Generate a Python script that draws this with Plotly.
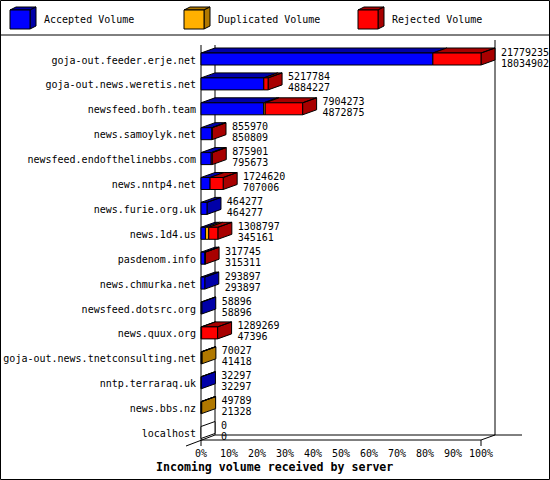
import plotly.graph_objects as go

# data (bytes); second number per row = accepted volume
servers = [
    "goja-out.feeder.erje.net", "goja-out.news.weretis.net", "newsfeed.bofh.team",
    "news.samoylyk.net", "newsfeed.endofthelinebbs.com", "news.nntp4.net",
    "news.furie.org.uk", "news.1d4.us", "pasdenom.info", "news.chmurka.net",
    "newsfeed.dotsrc.org", "news.quux.org", "goja-out.news.tnetconsulting.net",
    "nntp.terraraq.uk", "news.bbs.nz", "localhost",
]
total_volume = [21779235, 5217784, 7904273, 855970, 875901, 1724620, 464277, 1308797,
                317745, 293897, 58896, 1289269, 70027, 32297, 49789, 0]
accepted_volume = [18034902, 4884227, 4872875, 850809, 795673, 707006, 464277, 345161,
                   315311, 293897, 58896, 47396, 41418, 32297, 21328, 0]
duplicated_volume = [0, 0, 120000, 0, 0, 0, 0, 260000, 0, 0, 0, 0, 28609, 0, 28461, 0]

series_names = ["Accepted Volume", "Duplicated Volume", "Rejected Volume"]
front_colors = ["#0000ff", "#ffb000", "#ff0000"]
shade_colors = ["#0000a8", "#b07800", "#a80000"]
x_ticks = [0, 10, 20, 30, 40, 50, 60, 70, 80, 90, 100]
x_tick_labels = [f"{t}%" for t in x_ticks]

W, H = 550, 480
FONT = "DejaVu Sans Mono"

# pixel geometry of the fake 3d plot
X0_PX, PX_PER_PCT = 201, 2.8
ROW0_PX, ROW_PX = 59, 24.9
DX = 14 / PX_PER_PCT          # depth, in % units
DY = 5 / ROW_PX               # depth, in row units
HALF = 6 / ROW_PX             # half bar height


def xd(p):
    return (p - X0_PX) / PX_PER_PCT


def yd(p):
    return (p - ROW0_PX) / ROW_PX


def px(x):
    return x / W


def py(y):
    return 1 - y / H


max_total = max(total_volume)
rejected_volume = [t - a - d for t, a, d in zip(total_volume, accepted_volume, duplicated_volume)]

fronts = [([], []) for _ in series_names]
shades = [([], []) for _ in series_names]
blank = ([], [])


def add_poly(store, pts):
    xs, ys = store
    for x, y in pts + [pts[0]]:
        xs.append(x)
        ys.append(y)
    xs.append(None)
    ys.append(None)


for i in range(len(servers)):
    segs = [accepted_volume[i], duplicated_volume[i], rejected_volume[i]]
    start = 0
    last = None
    for k, v in enumerate(segs):
        if v <= 0:
            continue
        x0 = start / max_total * 100
        x1 = (start + v) / max_total * 100
        add_poly(fronts[k], [(x0, i - HALF), (x1, i - HALF), (x1, i + HALF), (x0, i + HALF)])
        add_poly(shades[k], [(x0, i - HALF), (x1, i - HALF), (x1 + DX, i - HALF - DY), (x0 + DX, i - HALF - DY)])
        start += v
        last = k
    xe = total_volume[i] / max_total * 100
    side = [(xe, i - HALF), (xe, i + HALF), (xe + DX, i + HALF - DY), (xe + DX, i - HALF - DY)]
    add_poly(shades[last] if last is not None else blank, side)

fig = go.Figure()

for store, col in [(blank, "white")] + list(zip(shades, shade_colors)) + list(zip(fronts, front_colors)):
    if not store[0]:
        continue
    fig.add_trace(go.Scatter(
        x=store[0], y=store[1], mode="lines", fill="toself", fillcolor=col,
        line=dict(color="black", width=1), hoverinfo="skip", showlegend=False,
    ))

# server names
fig.add_trace(go.Scatter(
    x=[xd(196)] * len(servers), y=[i + 2 / ROW_PX for i in range(len(servers))], mode="text",
    text=servers, textposition="middle left",
    textfont=dict(family=FONT, size=10, color="black"), hoverinfo="skip", showlegend=False,
))

# value labels (total on top, accepted below)
label_x = [t / max_total * 100 + DX + 2.1 for t in total_volume]
fig.add_trace(go.Scatter(
    x=label_x, y=[i - 6 / ROW_PX for i in range(len(servers))], mode="text",
    text=[str(v) for v in total_volume], textposition="middle right",
    textfont=dict(family=FONT, size=10, color="black"), hoverinfo="skip", showlegend=False,
))
fig.add_trace(go.Scatter(
    x=label_x, y=[i + 5 / ROW_PX for i in range(len(servers))], mode="text",
    text=[str(v) for v in accepted_volume], textposition="middle right",
    textfont=dict(family=FONT, size=10, color="black"), hoverinfo="skip", showlegend=False,
))

# frame of the 3d box
line = dict(color="black", width=1)
frame = [
    (0, yd(45), 0, yd(440)),
    (DX, yd(45), DX, yd(435)),
    (100 + DX, yd(40), 100 + DX, yd(435)),
    (DX, yd(435), xd(522), yd(435)),
    (0, yd(440), 100, yd(440)),
    (100, yd(440), 100 + DX, yd(435)),
    (xd(186), yd(446), DX, yd(435)),
    (0, yd(440), 0, yd(446)),
    (100, yd(440), 100, yd(446)),
]
shapes = [dict(type="line", xref="x", yref="y", x0=a, y0=b, x1=c, y1=d, line=line, layer="below")
          for a, b, c, d in frame]

# outer border and legend strip
shapes.append(dict(type="rect", xref="paper", yref="paper", x0=px(0.5), y0=py(479.5),
                   x1=px(549.5), y1=py(0.5), line=line))
shapes.append(dict(type="line", xref="paper", yref="paper", x0=0, y0=py(35), x1=1, y1=py(35), line=line))

annotations = []
legend_x = [10, 184, 358]
for lx, name, fc, sc in zip(legend_x, series_names, front_colors, shade_colors):
    def pth(pts):
        return "M " + " L ".join(f"{px(a)},{py(b)}" for a, b in pts) + " Z"
    shapes.append(dict(type="path", xref="paper", yref="paper", fillcolor=sc, line=line,
                       path=pth([(lx, 10), (lx + 20, 10), (lx + 26, 7), (lx + 6, 7)])))
    shapes.append(dict(type="path", xref="paper", yref="paper", fillcolor=sc, line=line,
                       path=pth([(lx + 20, 10), (lx + 26, 7), (lx + 26, 26), (lx + 20, 29)])))
    shapes.append(dict(type="path", xref="paper", yref="paper", fillcolor=fc, line=line,
                       path=pth([(lx, 10), (lx + 20, 10), (lx + 20, 29), (lx, 29)])))
    annotations.append(dict(x=px(lx + 32), y=py(20), xref="paper", yref="paper", text=name,
                            showarrow=False, xanchor="left", yanchor="middle",
                            font=dict(family=FONT, size=10, color="black")))

annotations.append(dict(x=px(274), y=py(467), xref="paper", yref="paper",
                        text="<b>Incoming volume received by server</b>", showarrow=False,
                        xanchor="center", yanchor="middle",
                        font=dict(family=FONT, size=11.6, color="black")))

fig.update_layout(
    width=W, height=H,
    margin=dict(l=0, r=0, t=0, b=0),
    paper_bgcolor="white", plot_bgcolor="white",
    shapes=shapes, annotations=annotations,
    xaxis=dict(range=[xd(0), xd(W)], tickvals=x_ticks, ticktext=x_tick_labels,
               showgrid=False, zeroline=False, showline=False, ticks="",
               anchor="free", position=(H - 446) / H,
               tickfont=dict(family=FONT, size=10, color="black"), fixedrange=True),
    yaxis=dict(range=[yd(H), yd(0)], visible=False, fixedrange=True),
    showlegend=False,
)

# page body has an 8px default margin; drop it so the chart sits at 0,0
fig.write_html("out.html", config={"displayModeBar": False},
               post_script="document.body.style.margin='0';")
